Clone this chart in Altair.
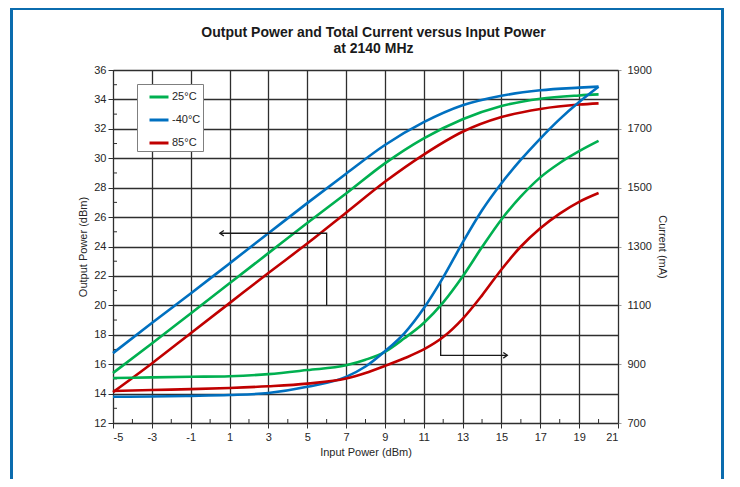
import altair as alt
import pandas as pd

# ---- data ----
temps = ["25°C", "-40°C", "85°C"]
colors = ["#00B050", "#0070C0", "#C00000"]

x_pout = [-5, -3, -1, 1, 3, 5, 7, 9, 11, 13, 15, 17, 19, 20]
pout_25 = [15.4, 17.4, 19.45, 21.5, 23.55, 25.6, 27.6, 29.65, 31.35, 32.65, 33.55, 34.05, 34.27, 34.34]
pout_m40 = [16.75, 18.8, 20.8, 22.85, 24.9, 26.95, 28.95, 30.9, 32.45, 33.6, 34.25, 34.62, 34.8, 34.87]
pout_85 = [14.1, 16.05, 18.1, 20.15, 22.2, 24.2, 26.3, 28.4, 30.25, 31.8, 32.8, 33.35, 33.65, 33.73]

x_cur = [-5, -3, -1, 1, 3, 5, 7, 8, 9, 10, 11, 12, 13, 14, 15, 16, 17, 18, 19, 20]
cur_25 = [853, 855, 857, 859, 866, 880, 896, 915, 942, 988, 1040, 1110, 1198, 1298, 1392, 1470, 1535, 1584, 1624, 1659]
cur_m40 = [789, 790, 792, 795, 802, 823, 857, 892, 944, 1005, 1090, 1195, 1313, 1423, 1515, 1595, 1667, 1733, 1791, 1843]
cur_85 = [809, 812, 815, 819, 825, 834, 851, 870, 894, 920, 950, 992, 1054, 1134, 1222, 1300, 1362, 1412, 1452, 1482]

x_ticks = [-5, -3, -1, 1, 3, 5, 7, 9, 11, 13, 15, 17, 19, 21]
x_minor = [-4, -2, 0, 2, 4, 6, 8, 10, 12, 14, 16, 18, 20]
y_ticks = [12, 14, 16, 18, 20, 22, 24, 26, 28, 30, 32, 34, 36]
y_minor = [13, 15, 17, 19, 21, 23, 25, 27, 29, 31, 33, 35]
cur_ticks = [700, 900, 1100, 1300, 1500, 1700, 1900]

# annotation arrows (input power, output power)
arrow_id = ["pout", "pout", "pout", "cur", "cur", "cur"]
arrow_x = [6, 6, 0.5, 11.87, 11.87, 15.3]
arrow_y = [20, 24.9, 24.9, 21.7, 16.6, 16.6]
arrow_order = [0, 1, 2, 0, 1, 2]

title_lines = ["Output Power and Total Current versus Input Power", "at 2140 MHz"]

FONT = "Liberation Sans"
TXT = "#262626"
GRID = "#2e2e2e"
W, H = 505, 353

rows = []
for t, vals in zip(temps, [pout_25, pout_m40, pout_85]):
    for x, v in zip(x_pout, vals):
        rows.append({"x": x, "y": v, "temp": t})
pout_df = pd.DataFrame(rows)

rows = []
for t, vals in zip(temps, [cur_25, cur_m40, cur_85]):
    for x, v in zip(x_cur, vals):
        rows.append({"x": x, "y": v, "temp": t})
cur_df = pd.DataFrame(rows)

arrow_df = pd.DataFrame({"id": arrow_id, "x": arrow_x, "y": arrow_y, "o": arrow_order})
head_left = arrow_df[(arrow_df.id == "pout") & (arrow_df.o == 2)]
head_right = arrow_df[(arrow_df.id == "cur") & (arrow_df.o == 2)]

xscale = alt.Scale(domain=[-5, 21], nice=False, zero=False)
yscale = alt.Scale(domain=[12, 36], nice=False, zero=False)
cscale = alt.Scale(domain=[700, 1900], nice=False, zero=False)
color = alt.Color("temp:N", scale=alt.Scale(domain=temps, range=colors),
                  legend=alt.Legend(title=None, orient="none", legendX=24, legendY=14,
                                    symbolType="stroke", symbolSize=361, symbolStrokeWidth=3,
                                    symbolOffset=9, labelExpr="datum.label + '   '",
                                    labelFontSize=11, labelFont=FONT, labelColor=TXT,
                                    labelOffset=2, padding=2, rowPadding=6,
                                    strokeColor="#7f7f7f", fillColor="white"))

xenc = alt.X("x:Q", scale=xscale,
             axis=alt.Axis(values=x_ticks, tickCount=len(x_ticks), title="Input Power (dBm)",
                           labelExpr="toString(datum.value)",
                           grid=True, labelOverlap=False, gridColor=GRID, gridWidth=1.3,
                           tickSize=5, tickColor=GRID, domainColor=GRID,
                           labelPadding=3, titlePadding=4, titleFontWeight="normal"))

pout_lines = alt.Chart(pout_df).mark_line(strokeWidth=2.6, interpolate="monotone").encode(
    x=xenc,
    y=alt.Y("y:Q", scale=yscale,
            axis=alt.Axis(values=y_ticks, tickCount=len(y_ticks), title="Output Power (dBm)",
                          grid=True, labelOverlap=False, gridColor=GRID, gridWidth=1.3,
                          tickSize=5, tickColor=GRID, domainColor=GRID,
                          labelPadding=2, titlePadding=5, titleFontWeight="normal")),
    color=color,
)

arrows = alt.Chart(arrow_df).mark_line(strokeWidth=1.3, color="#1a1a1a").encode(
    x=alt.X("x:Q", scale=xscale),
    y=alt.Y("y:Q", scale=yscale),
    detail="id:N",
    order="o:Q",
)
head_l = alt.Chart(head_left).mark_point(shape="M2,-1.4L0,0L2,1.4", size=16, filled=False,
                                         strokeWidth=1.3, color="#1a1a1a", opacity=1).encode(
    x=alt.X("x:Q", scale=xscale), y=alt.Y("y:Q", scale=yscale))
head_r = alt.Chart(head_right).mark_point(shape="M-2,-1.4L0,0L-2,1.4", size=16, filled=False,
                                          strokeWidth=1.3, color="#1a1a1a", opacity=1).encode(
    x=alt.X("x:Q", scale=xscale), y=alt.Y("y:Q", scale=yscale))

minor_x = alt.Chart(pd.DataFrame({"x": x_minor})).mark_rule(color=GRID, strokeWidth=1).encode(
    x=alt.X("x:Q", scale=xscale), y=alt.value(H - 4), y2=alt.value(H))
minor_y = alt.Chart(pd.DataFrame({"y": y_minor})).mark_rule(color=GRID, strokeWidth=1).encode(
    y=alt.Y("y:Q", scale=yscale), x=alt.value(0), x2=alt.value(4))

frame = alt.Chart(pd.DataFrame({"k": [0]})).mark_rect(filled=False, stroke="#0B6CAE",
                                                      strokeWidth=3).encode(
    x=alt.value(-101.5), x2=alt.value(609.5), y=alt.value(-61.5), y2=alt.value(440))

left_group = alt.layer(frame, minor_x, minor_y, pout_lines, arrows, head_l, head_r)

cur_lines = alt.Chart(cur_df).mark_line(strokeWidth=2.6, interpolate="monotone").encode(
    x=alt.X("x:Q", scale=xscale),
    y=alt.Y("y:Q", scale=cscale,
            axis=alt.Axis(orient="right", values=cur_ticks, tickCount=len(cur_ticks),
                          title="Current (mA)", grid=False, format="d", labelOverlap=False,
                          tickSize=3, tickColor="#9a9a9a", domainColor=GRID,
                          labelPadding=6, titlePadding=5, titleFontWeight="normal")),
    color=color,
)

chart = alt.layer(left_group, cur_lines).resolve_scale(y="independent").properties(
    width=W, height=H, background="white",
    title=alt.TitleParams(title_lines, fontSize=14, fontWeight="bold", font=FONT,
                          color="#1a1a1a", anchor="middle", offset=0, dx=8, dy=60,
                          baseline="alphabetic", lineHeight=16),
    autosize=alt.AutoSizeParams(type="none"),
    padding={"left": 105, "top": 62, "right": 114, "bottom": 56},
).configure_axis(
    labelFont=FONT, titleFont=FONT, labelFontSize=11, titleFontSize=11,
    titleFontWeight="normal", labelColor=TXT, titleColor=TXT,
).configure_view(stroke=GRID, strokeWidth=1)

chart.save("out.html", embed_options={"renderer": "svg", "actions": False})
